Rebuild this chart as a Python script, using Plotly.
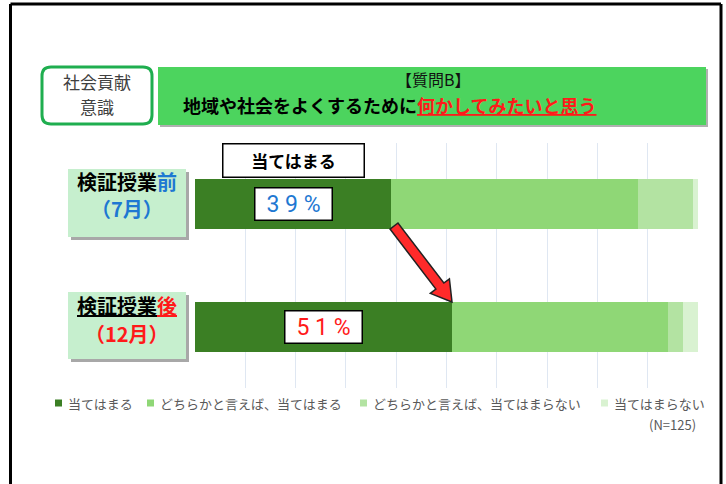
import plotly.graph_objects as go
import math

# ---------------- data ----------------
categories = ["検証授業前（7月）", "検証授業後（12月）"]
series_names = ["当てはまる", "どちらかと言えば、当てはまる",
                "どちらかと言えば、当てはまらない", "当てはまらない"]
values_agree = [39, 51]
values_somewhat_agree = [49, 43]
values_somewhat_disagree = [11, 3]
values_disagree = [1, 3]
x_ticks = list(range(0, 101, 10))
sample_note = "(N=125)"
label_colors = ["#1e78d2", "#ff1a1a"]

series_values = [values_agree, values_somewhat_agree,
                 values_somewhat_disagree, values_disagree]
colors = ["#3b7f24", "#8fd776", "#b3e3a2", "#d9f2d1"]

FONT = "Noto Sans CJK JP"
W, H = 726, 484
L, R, T, B = 195, 698, 143, 388  # plot area in page pixels


def px(x):
    return (x - L) / (R - L)


def py(y):
    return (B - y) / (B - T)


fig = go.Figure()
for name, vals, col in zip(series_names, series_values, colors):
    fig.add_trace(go.Bar(
        y=categories, x=vals, name=name, orientation="h",
        marker=dict(color=col, line=dict(width=0)), width=0.41,
        showlegend=False,
    ))

shapes = []
annotations = []

# slide border
for x0, y0, x1, y1 in [(10.5, 4, 10.5, 490), (721, 4, 721, 490), (10.5, 4, 721, 4)]:
    shapes.append(dict(type="line", xref="paper", yref="paper",
                       x0=px(x0), y0=py(y0), x1=px(x1), y1=py(y1),
                       line=dict(color="black", width=3)))


def rect(x0, y0, x1, y1, fill, line=None, lw=0):
    shapes.append(dict(type="rect", xref="paper", yref="paper",
                       x0=px(x0), y0=py(y1), x1=px(x1), y1=py(y0),
                       fillcolor=fill, line=dict(color=line or fill, width=lw),
                       layer="above"))


def rounded(x0, y0, x1, y1, r, line, lw):
    p = lambda x, y: f"{px(x):.5f},{py(y):.5f}"
    d = (f"M {p(x0 + r, y0)} L {p(x1 - r, y0)} Q {p(x1, y0)} {p(x1, y0 + r)} "
         f"L {p(x1, y1 - r)} Q {p(x1, y1)} {p(x1 - r, y1)} "
         f"L {p(x0 + r, y1)} Q {p(x0, y1)} {p(x0, y1 - r)} "
         f"L {p(x0, y0 + r)} Q {p(x0, y0)} {p(x0 + r, y0)} Z")
    shapes.append(dict(type="path", xref="paper", yref="paper", path=d,
                       fillcolor="white", line=dict(color=line, width=lw),
                       layer="above"))


def text(x, y, s, size, color="black", xanchor="center", **kw):
    annotations.append(dict(xref="paper", yref="paper", x=px(x), y=py(y),
                            text=s, showarrow=False, xanchor=xanchor, yanchor="middle",
                            font=dict(family=FONT, size=size, color=color), **kw))


# header: left rounded box
rounded(42, 67, 152, 124, 9, "#1fae4f", 3)
text(97, 81, "社会貢献", 17, "#404040")
text(97, 106, "意識", 17, "#404040")

# header: green title box
rect(160, 69, 708, 127, "#b0b0b0")
rect(158, 67, 706, 125, "#4cd45e")
text(433, 79, "【質問B】", 16, "#111111")
text(181, 105, "<b>地域や社会をよくするために<span style='color:#ff1a1a'><u>何かしてみたいと思う</u></span></b>",
     18, "#000000", xanchor="left")

# category label boxes
cat_boxes = [(68, 169, 186, 237), (68, 292, 186, 359)]
for (x0, y0, x1, y1) in cat_boxes:
    rect(x0 + 3, y0 + 3, x1 + 3, y1 + 3, "#a8a8a8")
    rect(x0, y0, x1, y1, "#c6efce")
text(127, 181, "<b>検証授業<span style='color:#1e78d2'>前</span></b>", 20)
text(127, 208, "<b>（7月）</b>", 20, "#1e78d2")
text(127, 305, "<b><u>検証授業</u><span style='color:#ff1a1a'><u>後</u></span></b>", 20)
text(127, 333, "<b>（12月）</b>", 20, "#ff1a1a")

# "当てはまる" header box above first bar
annotations.append(dict(xref="x", yref="paper", x=values_agree[0] / 2, y=py(160),
                        yanchor="middle", xanchor="center",
                        text="<b>" + series_names[0] + "</b>", showarrow=False,
                        font=dict(family=FONT, size=17, color="black"),
                        bgcolor="white", bordercolor="black", borderwidth=1.5,
                        width=138, height=30))

# data labels for the "当てはまる" segment
for cat, v, c in zip(categories, values_agree, label_colors):
    annotations.append(dict(xref="x", yref="y", x=v / 2, y=cat,
                            text=" ".join(str(v)) + " %", showarrow=False,
                            font=dict(family="Roboto", size=23, color=c),
                            bgcolor="white", bordercolor="black", borderwidth=1.5,
                            width=74, height=29))

# red arrow between the bars
tx, ty = 394, 226
ex, ey = 452, 302
dx, dy = ex - tx, ey - ty
ln = math.hypot(dx, dy)
ux, uy = dx / ln, dy / ln
nx, ny = -uy, ux
hw, hh, hl = 5, 12, 20
hx, hy = ex - hl * ux, ey - hl * uy
pts = [(tx + hw * nx, ty + hw * ny), (hx + hw * nx, hy + hw * ny),
       (hx + hh * nx, hy + hh * ny), (ex, ey), (hx - hh * nx, hy - hh * ny),
       (hx - hw * nx, hy - hw * ny), (tx - hw * nx, ty - hw * ny)]
path = "M " + " L ".join(f"{px(x):.5f},{py(y):.5f}" for x, y in pts) + " Z"
shapes.append(dict(type="path", xref="paper", yref="paper", path=path,
                   fillcolor="#ff2a2a", line=dict(color="#222222", width=1.5),
                   layer="above"))

# manual legend
legend_pos = [55, 147, 360, 601]
for name, col, x in zip(series_names, colors, legend_pos):
    shapes.append(dict(type="rect", xref="paper", yref="paper",
                       x0=px(x), x1=px(x + 7), y0=py(406.5), y1=py(399.5),
                       fillcolor=col, line=dict(width=0)))
    text(x + 11, 403, name, 13, "#595959", xanchor="left")
text(698, 424, sample_note, 13, "#595959", xanchor="right")

fig.update_layout(
    width=W, height=H,
    margin=dict(l=L, r=W - R, t=T, b=H - B, pad=0),
    paper_bgcolor="white", plot_bgcolor="white",
    barmode="stack", bargap=0,
    font=dict(family=FONT),
    xaxis=dict(range=[0, 100], tickvals=x_ticks, showticklabels=False,
               showgrid=True, gridcolor="#dfe7f2", gridwidth=1, zeroline=False,
               showline=False, ticks=""),
    yaxis=dict(categoryorder="array", categoryarray=categories,
               range=[1.5, -0.5], showticklabels=False, showgrid=False,
               zeroline=False, ticks=""),
    shapes=shapes, annotations=annotations,
)

fig.write_html("out.html",
               config={"displayModeBar": False},
               post_script="document.body.style.margin='0';document.body.style.overflow='hidden';")
